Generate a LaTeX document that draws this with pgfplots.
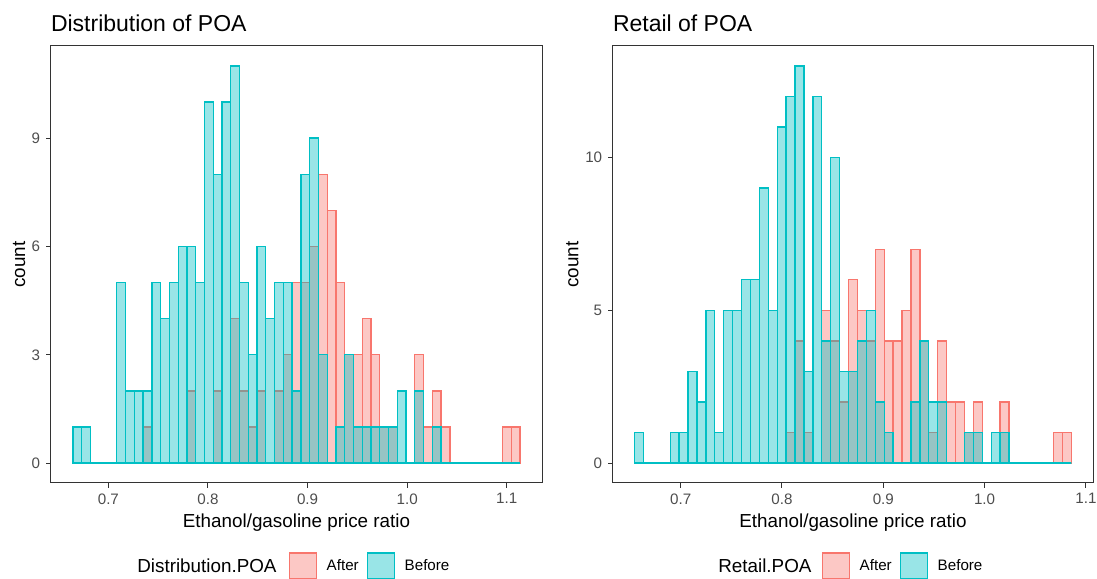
\documentclass[border=0pt]{standalone}
\usepackage{fontspec}
\setmainfont{Liberation Sans}
\usepackage{pgfplots}
\pgfplotsset{compat=1.18}
\usepackage{pgfplotstable}
\definecolor{cAfter}{HTML}{F8766D}
\definecolor{cBefore}{HTML}{00BFC4}
\definecolor{gtick}{HTML}{4D4D4D}
\definecolor{gframe}{HTML}{333333}

% left edge of each bin, count After, count Before (last row closes the last bin)
\pgfplotstableread{
x after before
0.6645 0 1
0.6733 0 1
0.6821 0 0
0.6909 0 0
0.6997 0 0
0.7085 0 5
0.7173 0 2
0.7261 0 2
0.7349 1 2
0.7437 0 5
0.7525 0 4
0.7613 0 5
0.7701 0 6
0.7789 2 6
0.7877 0 5
0.7965 0 10
0.8053 2 8
0.8141 0 10
0.8229 4 11
0.8317 2 5
0.8405 1 3
0.8493 2 6
0.8581 0 4
0.8669 2 5
0.8757 3 5
0.8845 5 2
0.8933 5 8
0.9021 6 9
0.9109 8 3
0.9197 7 0
0.9285 5 1
0.9373 3 3
0.9461 3 1
0.9549 4 1
0.9637 3 1
0.9725 1 1
0.9813 1 1
0.9901 0 2
0.9989 0 0
1.0077 3 2
1.0165 1 0
1.0253 2 1
1.0341 1 0
1.0429 0 0
1.0517 0 0
1.0605 0 0
1.0693 0 0
1.0781 0 0
1.0869 0 0
1.0957 1 0
1.1045 1 0
1.1133 0 0
}\tabDist

\pgfplotstableread{
x after before
0.6545 0 1
0.6633 0 0
0.6721 0 0
0.6809 0 0
0.6897 0 1
0.6985 0 1
0.7073 0 3
0.7161 0 2
0.7249 0 5
0.7337 0 1
0.7425 0 5
0.7513 0 5
0.7601 0 6
0.7689 0 6
0.7777 0 9
0.7865 0 5
0.7953 0 11
0.8041 1 12
0.8129 4 13
0.8217 1 3
0.8305 0 12
0.8393 5 4
0.8481 4 10
0.8569 2 3
0.8657 6 3
0.8745 5 4
0.8833 4 5
0.8921 7 2
0.9009 4 1
0.9097 4 0
0.9185 5 0
0.9273 7 2
0.9361 4 4
0.9449 1 2
0.9537 4 2
0.9625 2 0
0.9713 2 0
0.9801 1 1
0.9889 2 1
0.9977 0 0
1.0065 0 1
1.0153 2 1
1.0241 0 0
1.0329 0 0
1.0417 0 0
1.0505 0 0
1.0593 0 0
1.0681 1 0
1.0769 1 0
1.0857 0 0
}\tabRet

\pgfplotsset{
  myaxis/.style={
    scale only axis, height=262.2pt,
    axis line style={draw=gframe, line width=0.6pt},
    tick style={draw=gframe, line width=0.6pt},
    tick align=outside, major tick length=2.8pt,
    xtick pos=lower, ytick pos=left,
    ticklabel style={font=\fontsize{9.1}{10}\selectfont, text=gtick},
    /pgf/number format/assume math mode=true,
    xtick={0.7,0.8,0.9,1.0,1.1}, xticklabels={0.7,0.8,0.9,1.0,1.1},
    legend columns=-1,
    legend image code/.code={\draw[##1] (0pt,-7.8pt) rectangle (16.2pt,7.8pt);},
    legend style={draw=none, fill=none, inner sep=0pt, outer sep=0pt,
      font=\fontsize{9.1}{10}\selectfont,
      /tikz/every odd column/.append style={column sep=3.6pt},
      /tikz/every even column/.append style={column sep=3pt}},
  },
  afterbar/.style={ybar interval, draw=cAfter, fill=cAfter, fill opacity=0.4, line width=0.8pt, forget plot},
  beforebar/.style={ybar interval, draw=cBefore, fill=cBefore, fill opacity=0.4, line width=0.8pt, forget plot},
}

\begin{document}
\begin{tikzpicture}
\useasboundingbox (0,0) rectangle (658.2pt,347.4pt);

% ---------- left panel ----------
\begin{axis}[myaxis, at={(30.42pt,57.6pt)}, anchor=south west,
  width=294.96pt,
  xmin=0.6421, xmax=1.1357, ymin=-0.55, ymax=11.55,
  ytick={0,3,6,9},
  legend style={at={(axis description cs:0,0)}, anchor=west, xshift=143pt, yshift=-49.8pt}]
\addplot[afterbar] table[x=x, y=after] {\tabDist};
\addplot[beforebar] table[x=x, y=before] {\tabDist};
\addlegendimage{draw=cAfter, fill=cAfter, fill opacity=0.4, line width=0.8pt}
\addlegendentry{After}
\addlegendimage{draw=cBefore, fill=cBefore, fill opacity=0.4, line width=0.8pt}
\addlegendentry{Before}
\end{axis}

% ---------- right panel ----------
\begin{axis}[myaxis, at={(367.62pt,57.6pt)}, anchor=south west,
  width=288.36pt,
  xmin=0.6329, xmax=1.1073, ymin=-0.65, ymax=13.65,
  ytick={0,5,10},
  legend style={at={(axis description cs:0,0)}, anchor=west, xshift=125.6pt, yshift=-49.8pt}]
\addplot[afterbar] table[x=x, y=after] {\tabRet};
\addplot[beforebar] table[x=x, y=before] {\tabRet};
\addlegendimage{draw=cAfter, fill=cAfter, fill opacity=0.4, line width=0.8pt}
\addlegendentry{After}
\addlegendimage{draw=cBefore, fill=cBefore, fill opacity=0.4, line width=0.8pt}
\addlegendentry{Before}
\end{axis}

% ---------- texts ----------
\node[anchor=base west, inner sep=0pt, font=\fontsize{13.8}{15}\selectfont] at (30.4pt,328.2pt) {Distribution of POA};
\node[anchor=base west, inner sep=0pt, font=\fontsize{13.8}{15}\selectfont] at (367.6pt,328.2pt) {Retail of POA};
\node[anchor=base, inner sep=0pt, font=\fontsize{11.3}{13}\selectfont] at (177.9pt,30.6pt) {Ethanol/gasoline price ratio};
\node[anchor=base, inner sep=0pt, font=\fontsize{11.3}{13}\selectfont] at (511.8pt,30.6pt) {Ethanol/gasoline price ratio};
\node[anchor=base, rotate=90, inner sep=0pt, font=\fontsize{11.3}{13}\selectfont] at (15pt,188.7pt) {count};
\node[anchor=base, rotate=90, inner sep=0pt, font=\fontsize{11.3}{13}\selectfont] at (347pt,188.7pt) {count};
\node[anchor=base west, inner sep=0pt, font=\fontsize{11.3}{13}\selectfont] at (82.2pt,3.7pt) {Distribution.POA};
\node[anchor=base west, inner sep=0pt, font=\fontsize{11.3}{13}\selectfont] at (430.8pt,3.7pt) {Retail.POA};
\end{tikzpicture}
\end{document}
